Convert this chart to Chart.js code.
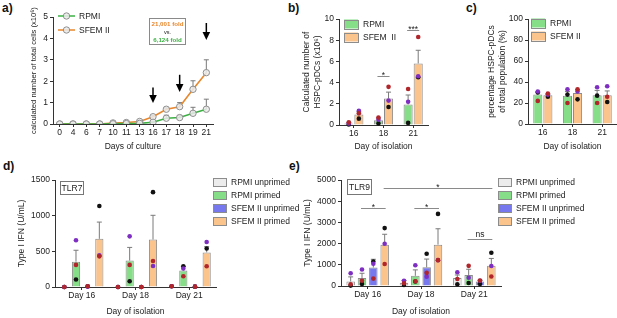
<!DOCTYPE html>
<html>
<head>
<meta charset="utf-8">
<script src="https://cdn.jsdelivr.net/npm/chart.js@4"></script>
<style>
  body { margin: 0; background: #fff; }
  #fig { position: relative; width: 617px; height: 318px; overflow: hidden; font-family: Arial, "Liberation Sans", sans-serif; }
  canvas { position: absolute; }
  .tag { position: absolute; font-weight: bold; font-size: 12px; line-height: 12px; color: #111; }
  .fold { position: absolute; left: 149px; top: 18px; width: 35px; height: 25px; border: 1px solid #8a8a8a;
          display: flex; flex-direction: column; align-items: center; justify-content: center; line-height: 8px;
          white-space: nowrap; }
  .fold b { font-size: 6.2px; }
  .fold span { font-size: 5.6px; color: #222; }
</style>
</head>
<body>
<div id="fig">
  <div class="tag" style="left:2px; top:2px">a)</div>
  <div class="tag" style="left:288px; top:2px">b)</div>
  <div class="tag" style="left:466px; top:2px">c)</div>
  <div class="tag" style="left:3px; top:160px">d)</div>
  <div class="tag" style="left:289px; top:160px">e)</div>

  <canvas id="chartCells" width="189" height="152" style="left:29px; top:0px"></canvas>
  <canvas id="chartPdcCount" width="130" height="152" style="left:302px; top:0px"></canvas>
  <canvas id="chartPdcPercent" width="130" height="152" style="left:487px; top:0px"></canvas>
  <canvas id="chartTlr7" width="283" height="147" style="left:17px; top:170px"></canvas>
  <canvas id="chartTlr9" width="314" height="147" style="left:303px; top:170px"></canvas>

  <div class="fold">
    <b style="color:#e8872d">21,001 fold</b>
    <span>vs.</span>
    <b style="color:#3cb043">6,124 fold</b>
  </div>
</div>

<script>
// ---- data ----
const cultureDays = ['0', '4', '6', '7', '10', '11', '13', '16', '17', '18', '19', '21'];
const rpmiCells = [0, 0, 0, 0, 0.01, 0.02, 0.03, 0.08, 0.27, 0.30, 0.50, 0.69];
const rpmiCellsErr = [0, 0, 0, 0, 0, 0, 0.01, 0.02, 0.14, 0.10, 0.28, 0.47];
const sfemCells = [0, 0, 0, 0, 0.05, 0.07, 0.12, 0.34, 0.69, 0.81, 1.62, 2.40];
const sfemCellsErr = [0, 0, 0, 0, 0.01, 0.02, 0.03, 0.05, 0.06, 0.19, 0.40, 0.60];

const isolationDays = ['16', '18', '21'];
const pdcCountRpmi = [0.15, 0.45, 1.93];
const pdcCountRpmiErr = [0.1, 0.2, 0.9];
const pdcCountSfem = [1.0, 2.5, 5.8];
const pdcCountSfemErr = [0.25, 0.6, 1.25];
// dots per bar: [black, purple, red]
const pdcCountRpmiDots = [[0.05, 0.15, 0.25], [0.15, 0.5, 0.7], [0.2, 2.2, 3.4]];
const pdcCountSfemDots = [[0.6, 1.35, 1.1], [1.7, 2.3, 3.6], [4.5, 4.6, 8.3]];

const pdcPctRpmi = [28, 27, 27.5];
const pdcPctRpmiErr = [2.5, 4, 4.5];
const pdcPctSfem = [27.5, 29.5, 27.5];
const pdcPctSfemErr = [1, 3, 4];
const pdcPctRpmiDots = [[30, 31, 22], [28, 33, 20], [27, 35, 20]];
const pdcPctSfemDots = [[26, 28, 29], [23.5, 31, 33], [21, 36, 26]];

const stimDays = ['Day 16', 'Day 18', 'Day 21'];
const groupLabels = ['RPMI unprimed', 'RPMI primed', 'SFEM II unprimed', 'SFEM II primed'];

const tlr7RpmiUnprimed = [0, 0, 8];
const tlr7RpmiPrimed = [355, 370, 230];
const tlr7SfemUnprimed = [8, 0, 5];
const tlr7SfemPrimed = [675, 665, 485];
const tlr7RpmiPrimedErr = [160, 185, 60];
const tlr7SfemPrimedErr = [235, 340, 80];
const tlr7RpmiUnprimedDots = [[0, 0, 0], [0, 0, 0], [10, 10, 10]];
const tlr7RpmiPrimedDots = [[105, 655, 310], [80, 710, 310], [290, 260, 150]];
const tlr7SfemUnprimedDots = [[10, 5, 10], [0, 0, 0], [5, 5, 5]];
const tlr7SfemPrimedDots = [[1135, 445, 430], [1330, 295, 365], [540, 630, 290]];

const tlr9RpmiUnprimed = [210, 150, 380];
const tlr9RpmiPrimed = [380, 480, 520];
const tlr9SfemUnprimed = [870, 880, 210];
const tlr9SfemPrimed = [1940, 1950, 960];
const tlr9RpmiUnprimedErr = [220, 110, 140];
const tlr9RpmiPrimedErr = [220, 280, 270];
const tlr9SfemUnprimedErr = [390, 390, 70];
const tlr9SfemPrimedErr = [500, 750, 340];
const tlr9RpmiUnprimedDots = [[20, 600, 80], [50, 250, 130], [80, 650, 330]];
const tlr9RpmiPrimedDots = [[100, 780, 250], [210, 980, 220], [140, 390, 950]];
const tlr9SfemUnprimedDots = [[1150, 1050, 350], [1520, 440, 620], [100, 250, 260]];
const tlr9SfemPrimedDots = [[2730, 1990, 1040], [3400, 1220, 1220], [1570, 940, 450]];

// ---- style ----
const GREEN_LINE = '#3cb043';
const ORANGE_LINE = '#e8872d';
const GREEN = '#86df88';
const ORANGE = '#fbc48d';
const GREY = '#ececec';
const BLUE = '#7878ee';
const EDGE = '#8c8c8c';
const DOT_COLORS = ['#111111', '#7e2fc1', '#b0262a'];
const AXIS = '#333333';
const FONT = 'Arial, "Liberation Sans", sans-serif';

Chart.defaults.font.family = FONT;
Chart.defaults.font.size = 8.5;
Chart.defaults.color = '#222';
Chart.defaults.animation = false;
Chart.defaults.plugins.legend.display = false;
Chart.defaults.plugins.tooltip.enabled = false;

const axisX = (height, title) => ({
    type: 'category',
    offset: true,
    grid: { display: true, drawOnChartArea: false, offset: false, tickLength: 3, color: AXIS },
    border: { color: AXIS, width: 1 },
    ticks: { autoSkip: false, maxRotation: 0, padding: 1 },
    title: { display: true, text: title, padding: 0, font: { size: 8.5 } },
    afterFit: (s) => { s.height = height; }
});

const axisY = (max, step, width, title, titleSize) => ({
    min: 0,
    max: max,
    ticks: { stepSize: step, padding: 2, callback: (v) => v },
    grid: { drawOnChartArea: false, tickLength: 3, color: AXIS },
    border: { color: AXIS, width: 1 },
    title: { display: true, text: title, padding: 0, font: { size: titleSize || 8.5, lineHeight: 1.2 } },
    afterFit: (s) => { s.width = width; }
});

// error bars, replicate dots, significance bars, legend and labels
const overlay = (cfg) => ({
    id: 'overlay',
    beforeDatasetsDraw(chart) {
        const { ctx } = chart;
        const y = chart.scales.y;
        ctx.save();
        ctx.strokeStyle = '#7a7a7a';
        ctx.lineWidth = 1;
        (cfg.errors || []).forEach((errs, di) => {
            const values = chart.data.datasets[di].data;
            chart.getDatasetMeta(di).data.forEach((el, i) => {
                if (!errs[i]) return;
                const top = y.getPixelForValue(values[i] + errs[i]);
                ctx.beginPath();
                ctx.moveTo(el.x, y.getPixelForValue(values[i]));
                ctx.lineTo(el.x, top);
                ctx.moveTo(el.x - cfg.cap, top);
                ctx.lineTo(el.x + cfg.cap, top);
                ctx.stroke();
            });
        });
        ctx.restore();
    },
    afterDatasetsDraw(chart) {
        const { ctx, chartArea: area } = chart;
        const y = chart.scales.y;
        ctx.save();

        (cfg.dots || []).forEach((set, di) => {
            const meta = chart.getDatasetMeta(di);
            set.forEach((vals, i) => {
                const x = meta.data[i].x;
                vals.forEach((v, k) => {
                    ctx.fillStyle = DOT_COLORS[k];
                    ctx.beginPath();
                    ctx.arc(x, y.getPixelForValue(v), 2.3, 0, Math.PI * 2);
                    ctx.fill();
                });
            });
        });

        (cfg.sig || []).forEach((s) => {
            const x1 = chart.getDatasetMeta(s.from[1]).data[s.from[0]].x - 1;
            const x2 = chart.getDatasetMeta(s.to[1]).data[s.to[0]].x + 1;
            const yy = Math.round(y.getPixelForValue(s.y)) + 0.5;
            ctx.strokeStyle = '#8a8a8a';
            ctx.lineWidth = 1;
            ctx.beginPath();
            ctx.moveTo(x1, yy);
            ctx.lineTo(x2, yy);
            ctx.stroke();
            ctx.fillStyle = '#222';
            ctx.font = '8.5px ' + FONT;
            ctx.textAlign = 'center';
            ctx.textBaseline = 'alphabetic';
            ctx.fillText(s.text, (x1 + x2) / 2, yy - s.lift);
        });

        (cfg.arrows || []).forEach((a) => {
            const x = chart.scales.x.getPixelForValue(a.at);
            const tip = y.getPixelForValue(a.tip);
            const tail = y.getPixelForValue(a.tail);
            ctx.strokeStyle = '#000';
            ctx.lineWidth = 1.5;
            ctx.beginPath();
            ctx.moveTo(x, tail);
            ctx.lineTo(x, tip - 6);
            ctx.stroke();
            ctx.fillStyle = '#000';
            ctx.beginPath();
            ctx.moveTo(x - 3.8, tip - 8);
            ctx.lineTo(x + 3.8, tip - 8);
            ctx.lineTo(x, tip);
            ctx.closePath();
            ctx.fill();
        });

        if (cfg.box) {
            const b = cfg.box;
            const bx = area.left + b.dx, by = area.top + b.dy;
            ctx.strokeStyle = '#777';
            ctx.lineWidth = 1;
            ctx.strokeRect(Math.round(bx) + 0.5, Math.round(by) + 0.5, b.w, b.h);
            ctx.fillStyle = '#222';
            ctx.font = '8.5px ' + FONT;
            ctx.textAlign = 'center';
            ctx.textBaseline = 'middle';
            ctx.fillText(b.text, bx + b.w / 2 + 0.5, by + b.h / 2 + 1);
        }

        if (cfg.legend) {
            const L = cfg.legend;
            ctx.font = L.font + 'px ' + FONT;
            ctx.textBaseline = 'middle';
            ctx.textAlign = 'left';
            chart.data.datasets.forEach((ds, k) => {
                const x0 = (L.fromRight ? area.right : area.left) + L.dx;
                const yy = area.top + L.dy + k * L.gap;
                if (L.kind === 'line') {
                    ctx.strokeStyle = ds.borderColor;
                    ctx.lineWidth = 1.5;
                    ctx.beginPath();
                    ctx.moveTo(x0, yy);
                    ctx.lineTo(x0 + 17, yy);
                    ctx.stroke();
                    ctx.fillStyle = ds.pointBackgroundColor;
                    ctx.strokeStyle = ds.pointBorderColor;
                    ctx.lineWidth = 1;
                    ctx.beginPath();
                    ctx.arc(x0 + 8.5, yy, 3.2, 0, Math.PI * 2);
                    ctx.fill();
                    ctx.stroke();
                    ctx.fillStyle = '#222';
                    ctx.fillText(ds.label, x0 + 21, yy + 0.5);
                } else {
                    ctx.fillStyle = ds.backgroundColor;
                    ctx.fillRect(x0, yy - L.bh / 2, L.bw, L.bh);
                    ctx.strokeStyle = EDGE;
                    ctx.lineWidth = 1;
                    ctx.strokeRect(Math.round(x0) + 0.5, Math.round(yy - L.bh / 2) + 0.5, L.bw, L.bh);
                    ctx.fillStyle = '#222';
                    ctx.fillText(ds.label, x0 + L.bw + 5, yy + 0.5);
                }
            });
        }
        ctx.restore();
    }
});

const barSet = (label, color, data, catPct, barPct) => ({
    label,
    data,
    backgroundColor: color,
    borderColor: EDGE,
    borderWidth: 1,
    categoryPercentage: catPct,
    barPercentage: barPct
});

// a) total cells over culture
new Chart('chartCells', {
    type: 'line',
    data: {
        labels: cultureDays,
        datasets: [
            { label: 'RPMI', data: rpmiCells, borderColor: GREEN_LINE, borderWidth: 1.6, tension: 0,
              pointRadius: 3.2, pointBorderWidth: 1, pointBorderColor: '#8f8f8f', pointBackgroundColor: 'rgba(235,235,235,0.85)' },
            { label: 'SFEM II', data: sfemCells, borderColor: ORANGE_LINE, borderWidth: 1.6, tension: 0,
              pointRadius: 3.2, pointBorderWidth: 1, pointBorderColor: '#8f8f8f', pointBackgroundColor: 'rgba(235,235,235,0.85)' }
        ]
    },
    options: {
        responsive: false,
        layout: { padding: { top: 17, right: 4, left: 0, bottom: 0 } },
        scales: {
            x: axisX(28, 'Days of culture'),
            y: axisY(5, 1, 24, 'calculated number of total cells (x10⁶)', 7.6)
        }
    },
    plugins: [overlay({
        cap: 2.5,
        errors: [rpmiCellsErr, sfemCellsErr],
        arrows: [{ at: 7, tip: 0.98, tail: 1.7 }, { at: 9, tip: 1.5, tail: 2.3 }, { at: 11, tip: 3.93, tail: 4.72 }],
        legend: { kind: 'line', dx: 5, dy: -1, gap: 14, font: 8.5 }
    })]
});

// b) HSPC-pDC counts
new Chart('chartPdcCount', {
    type: 'bar',
    data: {
        labels: isolationDays,
        datasets: [
            barSet('RPMI', GREEN, pdcCountRpmi, 0.68, 0.9),
            barSet('SFEM  II', ORANGE, pdcCountSfem, 0.68, 0.9)
        ]
    },
    options: {
        responsive: false,
        layout: { padding: { top: 19, right: 4, left: 0, bottom: 0 } },
        scales: {
            x: axisX(27, 'Day of isolation'),
            y: axisY(10, 2, 37, ['Calculated number of', 'HSPC-pDCs (x10⁶)'])
        }
    },
    plugins: [overlay({
        cap: 2.5,
        errors: [pdcCountRpmiErr, pdcCountSfemErr],
        dots: [pdcCountRpmiDots, pdcCountSfemDots],
        sig: [
            { from: [1, 0], to: [1, 1], y: 4.6, text: '*', lift: -1 },
            { from: [2, 0], to: [2, 1], y: 9.0, text: '***', lift: -1 }
        ],
        legend: { kind: 'box', dx: 5, dy: 5, gap: 13, bw: 14, bh: 9, font: 8.5 }
    })]
});

// c) HSPC-pDC percentage
new Chart('chartPdcPercent', {
    type: 'bar',
    data: {
        labels: isolationDays,
        datasets: [
            barSet('RPMI', GREEN, pdcPctRpmi, 0.68, 0.9),
            barSet('SFEM II', ORANGE, pdcPctSfem, 0.68, 0.9)
        ]
    },
    options: {
        responsive: false,
        layout: { padding: { top: 19, right: 0, left: 0, bottom: 0 } },
        scales: {
            x: axisX(28, 'Day of isolation'),
            y: axisY(100, 20, 41, ['percentage HSPC-pDCs', 'of total population (%)'])
        }
    },
    plugins: [overlay({
        cap: 2.5,
        errors: [pdcPctRpmiErr, pdcPctSfemErr],
        dots: [pdcPctRpmiDots, pdcPctSfemDots],
        legend: { kind: 'box', dx: 3, dy: 4, gap: 13, bw: 14, bh: 9, font: 8.5 }
    })]
});

// d) TLR7 type I IFN
new Chart('chartTlr7', {
    type: 'bar',
    data: {
        labels: stimDays,
        datasets: [
            barSet(groupLabels[0], GREY, tlr7RpmiUnprimed, 0.87, 0.7),
            barSet(groupLabels[1], GREEN, tlr7RpmiPrimed, 0.87, 0.7),
            barSet(groupLabels[2], BLUE, tlr7SfemUnprimed, 0.87, 0.7),
            barSet(groupLabels[3], ORANGE, tlr7SfemPrimed, 0.87, 0.7)
        ]
    },
    options: {
        responsive: false,
        layout: { padding: { top: 10, right: 84, left: 0, bottom: 0 } },
        scales: {
            x: axisX(30, 'Day of isolation'),
            y: axisY(1500, 500, 38, 'Type I IFN (U/mL)')
        }
    },
    plugins: [overlay({
        cap: 2.5,
        errors: [[], tlr7RpmiPrimedErr, [], tlr7SfemPrimedErr],
        dots: [tlr7RpmiUnprimedDots, tlr7RpmiPrimedDots, tlr7SfemUnprimedDots, tlr7SfemPrimedDots],
        box: { text: 'TLR7', dx: 5, dy: 1, w: 23, h: 13 },
        legend: { kind: 'box', fromRight: true, dx: -3, dy: 2, gap: 13, bw: 13, bh: 8, font: 8.5 }
    })]
});

// e) TLR9 type I IFN
new Chart('chartTlr9', {
    type: 'bar',
    data: {
        labels: stimDays,
        datasets: [
            barSet(groupLabels[0], GREY, tlr9RpmiUnprimed, 0.85, 0.75),
            barSet(groupLabels[1], GREEN, tlr9RpmiPrimed, 0.85, 0.75),
            barSet(groupLabels[2], BLUE, tlr9SfemUnprimed, 0.85, 0.75),
            barSet(groupLabels[3], ORANGE, tlr9SfemPrimed, 0.85, 0.75)
        ]
    },
    options: {
        responsive: false,
        layout: { padding: { top: 10, right: 116, left: 0, bottom: 0 } },
        scales: {
            x: axisX(31, 'Day of isolation'),
            y: axisY(5000, 1000, 38, 'Type I IFN (U/mL)')
        }
    },
    plugins: [overlay({
        cap: 2.5,
        errors: [tlr9RpmiUnprimedErr, tlr9RpmiPrimedErr, tlr9SfemUnprimedErr, tlr9SfemPrimedErr],
        dots: [tlr9RpmiUnprimedDots, tlr9RpmiPrimedDots, tlr9SfemUnprimedDots, tlr9SfemPrimedDots],
        sig: [
            { from: [0, 1], to: [0, 3], y: 3700, text: '*', lift: -1 },
            { from: [1, 1], to: [1, 3], y: 3700, text: '*', lift: -1 },
            { from: [2, 1], to: [2, 3], y: 2200, text: 'ns', lift: 3 },
            { from: [0, 3], to: [2, 3], y: 4620, text: '*', lift: -1 }
        ],
        box: { text: 'TLR9', dx: 6, dy: -1, w: 24, h: 15 },
        legend: { kind: 'box', fromRight: true, dx: -3, dy: 2, gap: 13, bw: 13, bh: 8, font: 8.5 }
    })]
});
</script>
</body>
</html>
